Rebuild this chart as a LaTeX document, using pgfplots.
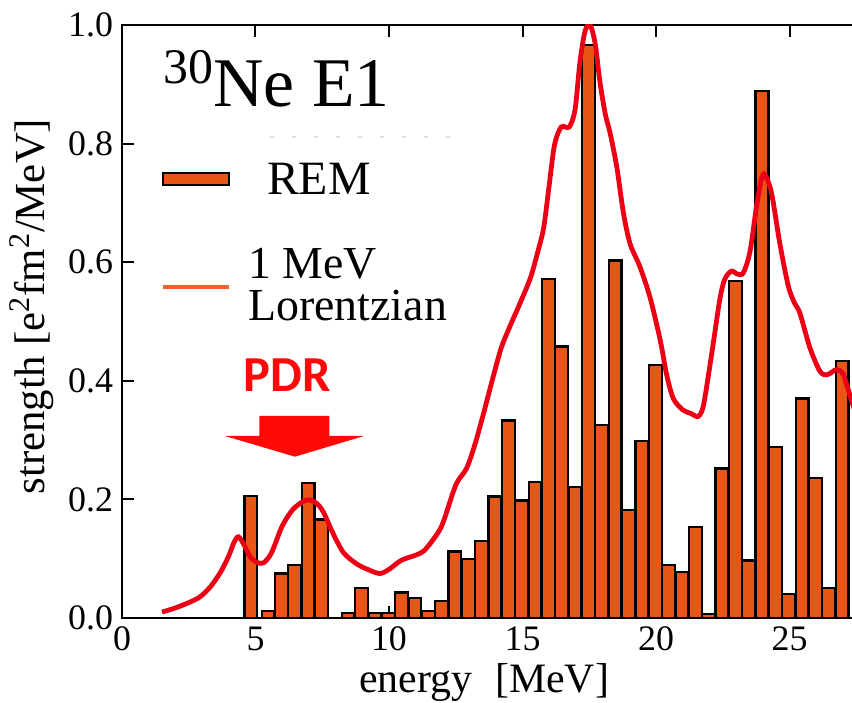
\documentclass[border=0pt]{standalone}
\usepackage{pgfplots}
\pgfplotsset{compat=1.18}
\usepackage{fontspec}
\setmainfont{Liberation Serif}
\newfontfamily\ticksfont{Liberation Serif}
\newfontfamily\calibri{Carlito}

\definecolor{barorange}{RGB}{232,85,20}
\definecolor{curvered}{RGB}{236,0,22}
\definecolor{legorange}{RGB}{240,98,38}
\definecolor{pdrred}{RGB}{255,8,8}

% E1 strength of 30Ne: REM histogram (0.5 MeV bins) and 1 MeV Lorentzian folding
\pgfplotstableread{
E     S
4.83  0.206
5.47  0.012
5.97  0.075
6.47  0.089
6.97  0.227
7.47  0.166
8.47  0.008
8.97  0.051
9.47  0.008
9.97  0.009
10.47 0.043
10.97 0.034
11.47 0.012
11.97 0.029
12.47 0.112
12.97 0.099
13.47 0.130
13.97 0.205
14.47 0.333
14.97 0.198
15.47 0.229
15.97 0.572
16.47 0.458
16.97 0.221
17.47 0.966
17.97 0.325
18.47 0.603
18.97 0.182
19.47 0.299
19.97 0.426
20.47 0.090
20.97 0.077
21.47 0.154
21.97 0.007
22.47 0.252
22.97 0.568
23.47 0.097
23.97 0.889
24.47 0.289
24.97 0.040
25.47 0.370
25.97 0.236
26.47 0.051
26.97 0.434
}\remdata

\pgfplotstableread{
E     S
1.50  0.010
2.00  0.017
2.50  0.026
2.90  0.035
3.30  0.052
3.70  0.078
4.00  0.105
4.20  0.128
4.36  0.137
4.55  0.125
4.80  0.103
5.05  0.094
5.30  0.093
5.60  0.110
6.00  0.155
6.40  0.183
6.80  0.197
7.04  0.199
7.30  0.193
7.55  0.178
7.90  0.143
8.30  0.110
8.80  0.091
9.20  0.082
9.65  0.075
10.00 0.082
10.45 0.097
11.00 0.106
11.30 0.113
11.65 0.132
12.00 0.158
12.50 0.224
12.90 0.252
13.20 0.290
13.50 0.338
13.85 0.398
14.20 0.455
14.55 0.494
14.90 0.530
15.30 0.574
15.60 0.622
15.80 0.660
16.00 0.730
16.20 0.798
16.45 0.828
16.75 0.828
16.97 0.858
17.15 0.937
17.34 0.989
17.53 1.000
17.72 0.969
17.90 0.904
18.10 0.850
18.28 0.818
18.53 0.761
18.78 0.683
19.03 0.631
19.40 0.592
19.78 0.540
20.16 0.468
20.40 0.410
20.65 0.370
21.00 0.351
21.30 0.345
21.58 0.340
21.77 0.357
22.00 0.420
22.20 0.480
22.40 0.540
22.58 0.572
22.83 0.585
23.05 0.580
23.27 0.582
23.52 0.618
23.77 0.696
23.95 0.740
24.08 0.748
24.33 0.716
24.64 0.631
24.96 0.559
25.20 0.530
25.39 0.514
25.77 0.455
26.14 0.416
26.39 0.410
26.60 0.415
26.77 0.419
27.02 0.410
27.34 0.364
27.60 0.330
}\lorentz

\begin{document}
\begin{tikzpicture}
\begin{axis}[
  scale only axis,
  width=373.8bp, height=296.5bp,
  xmin=0, xmax=28, ymin=0, ymax=1,
  xtick={0,5,10,15,20,25},
  ytick={0,0.2,0.4,0.6,0.8,1.0},
  xticklabel={\textrm{\ticksfont\pgfmathprintnumber[assume math mode=true]{\tick}}},
  yticklabel={\textrm{\ticksfont\pgfmathprintnumber[assume math mode=true,
              fixed, fixed zerofill, precision=1]{\tick}}},
  tick align=inside,
  tick pos=both,
  major tick length=6bp,
  minor tick num=0,
  axis line style={line width=1bp, black},
  major tick style={line width=1bp, black},
  tick label style={font=\ticksfont\fontsize{18}{18}\selectfont},
  yticklabel style={xshift=-1bp},
  xticklabel style={yshift=-1bp},
  xlabel={energy\hspace{0.55em}[MeV]},
  ylabel={strength [e\textsuperscript{2}fm\textsuperscript{2}/MeV]},
  x label style={font=\fontsize{21}{21}\selectfont,
                 at={(axis description cs:0.4842,-0.1248)}, anchor=base},
  y label style={font=\fontsize{21.5}{21.5}\selectfont,
                 at={(axis description cs:-0.1043,0.525)}, anchor=base, rotate=0},
  clip=true,
]
\addplot[ybar, bar width=0.48, bar shift=0pt, fill=barorange, draw=black,
         line width=1.1bp] table[x=E, y=S] {\remdata};
\addplot[smooth, curvered, line width=2.4bp] table[x=E, y=S] {\lorentz};
\end{axis}

% title
\node[anchor=base west, inner sep=0pt] at (20.65bp,255.65bp)
  {{\fontsize{25}{25}\selectfont\raisebox{11.5bp}{30}}{\fontsize{35}{35}\selectfont Ne E1}};
% faint rule under the title
\draw[black!12, line width=0.6bp, dash pattern=on 2bp off 9bp] (74bp,240.5bp) -- (169bp,240.5bp);

% legend
\filldraw[fill=barorange, draw=black, line width=1bp] (20.35bp,216.5bp) rectangle (53.65bp,222.5bp);
\node[anchor=base west, inner sep=0pt, font=\fontsize{24}{24}\selectfont] at (72.35bp,211.5bp) {REM};
\draw[legorange, line width=1.7bp] (20.35bp,165.5bp) -- (53.65bp,165.5bp);
\node[anchor=base west, inner sep=0pt, align=left,
      font=\fontsize{23}{21.5}\selectfont] at (63bp,148.5bp) {1 MeV\\Lorentzian};

% PDR marker
\node[anchor=base, inner sep=0pt, text=pdrred, font=\calibri\bfseries\fontsize{25.3}{25.3}\selectfont]
  at (82.5bp,113.15bp) {PDR};
\fill[pdrred] (68.7bp,101bp) -- (103.7bp,101bp) -- (103.7bp,91bp) -- (121bp,91bp)
  -- (86.5bp,80.65bp) -- (51.5bp,91bp) -- (68.7bp,91bp) -- cycle;

\pgfresetboundingbox
\useasboundingbox (-61bp,-42.5bp) rectangle (365bp,309bp);
\end{tikzpicture}
\end{document}
